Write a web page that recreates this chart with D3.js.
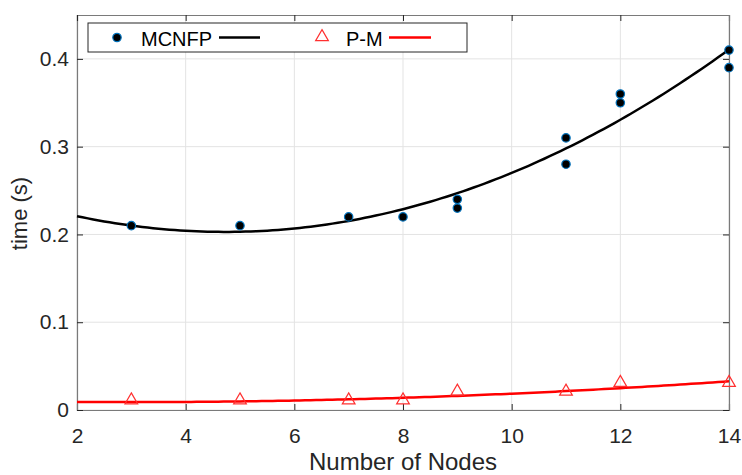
<!DOCTYPE html>
<html><head><meta charset="utf-8">
<script src="https://cdn.jsdelivr.net/npm/d3@7"></script>
<style>body{margin:0;background:#fff}svg{display:block;font-family:"Liberation Sans",Arial,sans-serif}</style>
</head><body><svg id="c" width="742" height="475"></svg>
<script>
const mcnfpX = [3,5,7,8,9,9,11,11,12,12,14,14];
const mcnfpY = [0.21,0.21,0.22,0.22,0.24,0.23,0.31,0.28,0.36,0.35,0.41,0.39];
const pmX = [3,5,7,8,9,11,12,14];
const pmY = [0.01,0.01,0.01,0.01,0.02,0.02,0.03,0.03];
const xTicks = [2,4,6,8,10,12,14];
const yTicks = [0,0.1,0.2,0.3,0.4];
const seriesNames = ["MCNFP","P-M"];

// least-squares quadratic fit (trend lines)
function polyfit2(xs, ys){
  const S=k=>d3.sum(xs,x=>Math.pow(x,k));
  const T=k=>d3.sum(xs.map((x,i)=>Math.pow(x,k)*ys[i]));
  const A=[[S(4),S(3),S(2)],[S(3),S(2),S(1)],[S(2),S(1),xs.length]];
  const b=[T(2),T(1),T(0)];
  for(let i=0;i<3;i++){for(let j=i+1;j<3;j++){const f=A[j][i]/A[i][i];for(let k=i;k<3;k++)A[j][k]-=f*A[i][k];b[j]-=f*b[i];}}
  const c=[0,0,0];
  for(let i=2;i>=0;i--){let s=b[i];for(let k=i+1;k<3;k++)s-=A[i][k]*c[k];c[i]=s/A[i][i];}
  return x=>c[0]*x*x+c[1]*x+c[2];
}

const svg=d3.select("#c");
const L=77,R=729,T=15,B=410;
const x=d3.scaleLinear().domain([2,14]).range([L,R]);
const y=d3.scaleLinear().domain([0,0.45]).range([B,T]);
const axisCol="#262626", txtCol="#262626";
const ff="Liberation Sans, Arial, sans-serif";

// grid
svg.append("g").selectAll("line").data(xTicks).join("line")
  .attr("x1",d=>x(d)).attr("x2",d=>x(d)).attr("y1",T).attr("y2",B)
  .attr("stroke","#e3e3e3").attr("stroke-width",1);
svg.append("g").selectAll("line").data(yTicks).join("line")
  .attr("x1",L).attr("x2",R).attr("y1",d=>y(d)).attr("y2",d=>y(d))
  .attr("stroke","#e3e3e3").attr("stroke-width",1);

// axes
const fs=21;
const gx=svg.append("g").attr("transform",`translate(0,${B})`)
  .call(d3.axisBottom(x).tickValues(xTicks).tickSize(-6).tickPadding(18).tickFormat(d3.format("d")));
const gy=svg.append("g").attr("transform",`translate(${L},0)`)
  .call(d3.axisLeft(y).tickValues(yTicks).tickSize(-6).tickPadding(8).tickFormat(d=>d===0?"0":d3.format(".1f")(d)));
const gt=svg.append("g").attr("transform",`translate(0,${T})`)
  .call(d3.axisTop(x).tickValues(xTicks).tickSize(-6).tickFormat(""));
const gr=svg.append("g").attr("transform",`translate(${R},0)`)
  .call(d3.axisRight(y).tickValues(yTicks).tickSize(-6).tickFormat(""));
[gx,gy,gt,gr].forEach(g=>{
  g.attr("font-size",null).attr("font-family",null);
  g.select(".domain").attr("stroke","#7a7a7a").attr("stroke-width",1.2);
  g.selectAll(".tick line").attr("stroke",axisCol);
  g.selectAll("text").attr("fill",txtCol).style("font-size",fs+"px").style("font-family",ff);
});

// labels
svg.append("text").attr("x",(L+R)/2).attr("y",470).attr("text-anchor","middle")
  .attr("fill",txtCol).style("font-size","24px").style("font-family",ff).text("Number of Nodes");
svg.append("text").attr("transform",`translate(27,${(T+B)/2+1}) rotate(-90)`).attr("text-anchor","middle")
  .attr("fill",txtCol).style("font-size","22px").style("font-family",ff).text("time (s)");

// fit curves
const fitM=polyfit2(mcnfpX,mcnfpY), fitP=polyfit2(pmX,pmY);
const xs=d3.range(2,14.001,0.1);
const line=f=>d3.line().x(d=>x(d)).y(d=>y(f(d)))(xs);
svg.append("path").attr("d",line(fitM)).attr("fill","none").attr("stroke","#000").attr("stroke-width",2.5);
svg.append("path").attr("d",line(fitP)).attr("fill","none").attr("stroke","#ff0000").attr("stroke-width",2.5);

// markers
svg.append("g").selectAll("circle").data(mcnfpX.map((d,i)=>[d,mcnfpY[i]])).join("circle")
  .attr("cx",d=>x(d[0])).attr("cy",d=>y(d[1])).attr("r",4.2)
  .attr("fill","#000").attr("stroke","#0072bd").attr("stroke-width",1.2);
const tri=d3.symbol().type(d3.symbolTriangle).size(70);
svg.append("g").selectAll("path").data(pmX.map((d,i)=>[d,pmY[i]])).join("path")
  .attr("d",tri).attr("transform",d=>`translate(${x(d[0])},${y(d[1])-1})`)
  .attr("fill","none").attr("stroke","#ff3030").attr("stroke-width",1.2);

// legend
const lg=svg.append("g");
lg.append("rect").attr("x",88).attr("y",23).attr("width",379).attr("height",29)
  .attr("fill","#fff").attr("stroke","#262626").attr("stroke-width",1);
lg.append("circle").attr("cx",117).attr("cy",37.5).attr("r",4.2).attr("fill","#000").attr("stroke","#0072bd").attr("stroke-width",1.2);
lg.append("text").attr("x",141).attr("y",46).attr("fill","#000").style("font-size","20px").style("font-family",ff).text(seriesNames[0]);
lg.append("line").attr("x1",219).attr("x2",260).attr("y1",37.5).attr("y2",37.5).attr("stroke","#000").attr("stroke-width",2.5);
lg.append("path").attr("d",tri).attr("transform","translate(322,37)").attr("fill","none").attr("stroke","#ff3030").attr("stroke-width",1.2);
lg.append("text").attr("x",346).attr("y",46).attr("fill","#000").style("font-size","20px").style("font-family",ff).text(seriesNames[1]);
lg.append("line").attr("x1",389).attr("x2",431).attr("y1",37.5).attr("y2",37.5).attr("stroke","#ff0000").attr("stroke-width",2.5);
</script></body></html>
